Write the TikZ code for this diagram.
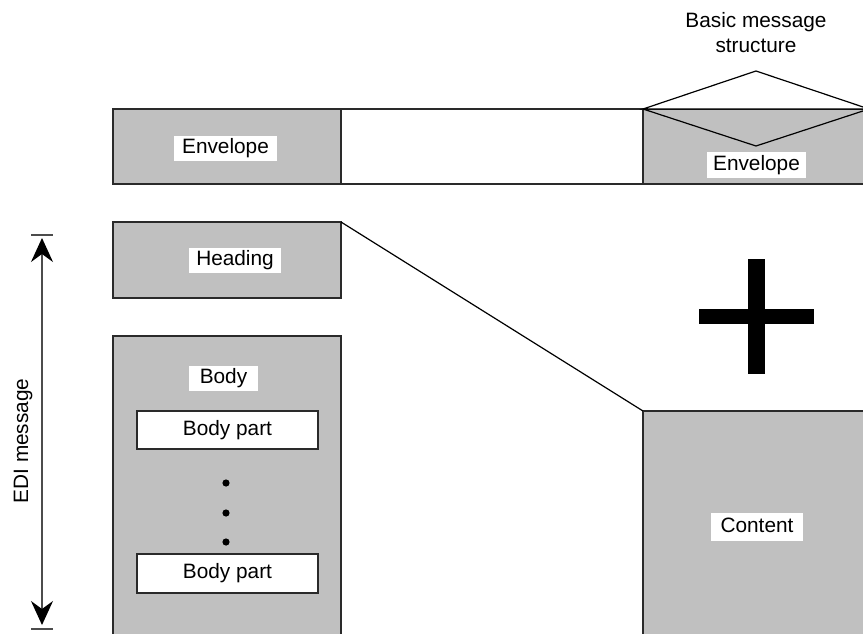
\documentclass[tikz,border=0pt]{standalone}
\usepackage{fontspec}
\setmainfont{Liberation Sans}
\usetikzlibrary{arrows.meta}
\definecolor{boxgray}{HTML}{C0C0C0}
\definecolor{edge}{HTML}{2A2A2A}
\begin{document}
\begin{tikzpicture}[x=1pt,y=-1pt,
  every node/.style={font=\fontsize{20.8pt}{25pt}\selectfont},
  base box/.style={rectangle, draw=edge, line width=1.2pt, inner sep=0pt, outer sep=0pt, anchor=north west},
  graybox/.style={base box, fill=boxgray},
  whitebox/.style={base box, fill=white},
  lab/.style={fill=white, inner xsep=0pt, inner ysep=0pt, text height=15pt, text depth=4.5pt, minimum height=25pt},
  plusbar/.style={rectangle, fill=black, inner sep=0pt, outer sep=0pt},
  conn/.style={draw=black, line width=1.2pt},
  dimline/.style={draw=black!70, line width=1.2pt},
  dimtip/.style={Stealth[length=24pt, width=22pt, inset=8pt], black}
]
\useasboundingbox (0,0) rectangle (863,634);
\clip (0,0) rectangle (863,634);

% top bar
\node[graybox, minimum width=228pt, minimum height=75pt] (env) at (113,109) {};
\node[whitebox, minimum width=302pt, minimum height=75pt] (gap) at (341,109) {};
\node[graybox, minimum width=226pt, minimum height=75pt] (env2) at (643,109) {};
% envelope flap
\coordinate (apex) at (756,71);
\coordinate (vb) at (756,146);
\draw[conn, fill=white] (env2.north west) -- (apex) -- (env2.north east) -- cycle;
\draw[conn] (env2.north west) -- (vb) -- (env2.north east);

% heading and body
\node[graybox, minimum width=228pt, minimum height=76pt] (heading) at (113,222) {};
\node[graybox, minimum width=228pt, minimum height=320pt] (body) at (113,336) {};
\node[whitebox, minimum width=181pt, minimum height=38pt] (bp1) at (137,411) {Body part};
\node[whitebox, minimum width=181pt, minimum height=39pt] (bp2) at (137,554) {Body part};
\fill (226,483) circle (3.6);
\fill (226,513) circle (3.6);
\fill (226,542) circle (3.6);

% content
\node[graybox, minimum width=240pt, minimum height=260pt] (content) at (643,411) {};
\draw[conn] (heading.north east) -- (content.north west);

% plus sign
\node[plusbar, minimum width=17pt, minimum height=115pt] (plusv) at (756.5,316.5) {};
\node[plusbar, minimum width=115pt, minimum height=15pt] (plush) at (756.5,316.5) {};

% labels
\node[lab, minimum width=103pt] (envlab) at (225.5,148.5) {Envelope};
\node[lab, minimum width=92pt] (headlab) at (235,260.5) {Heading};
\node[lab, minimum width=69pt] (bodylab) at (223.5,378.5) {Body};
\node[lab, minimum width=92pt, minimum height=28pt] (contlab) at (757,527) {Content};
\node[lab, minimum width=99pt, minimum height=26pt] (env2lab) at (756.5,165) {Envelope};

% title
\node[anchor=base, inner sep=0pt] (title1) at (756,28) {Basic message};
\node[anchor=base, inner sep=0pt] (title2) at (756,53) {structure};

% EDI message dimension arrow
\coordinate (tl1) at (31,235); \coordinate (tr1) at (53,235);
\coordinate (tl2) at (31,629); \coordinate (tr2) at (53,629);
\coordinate (atop) at (42,238); \coordinate (abot) at (42,625);
\draw[dimline] (tl1) -- (tr1);
\draw[dimline] (tl2) -- (tr2);
\draw[dimline, {Stealth[length=24pt, width=22pt, inset=8pt, black]}-{Stealth[length=24pt, width=22pt, inset=8pt, black]}] (atop) -- (abot);
\node[rotate=90, anchor=base, inner sep=0pt] (edi) at (28,441) {EDI message};
\end{tikzpicture}
\end{document}
